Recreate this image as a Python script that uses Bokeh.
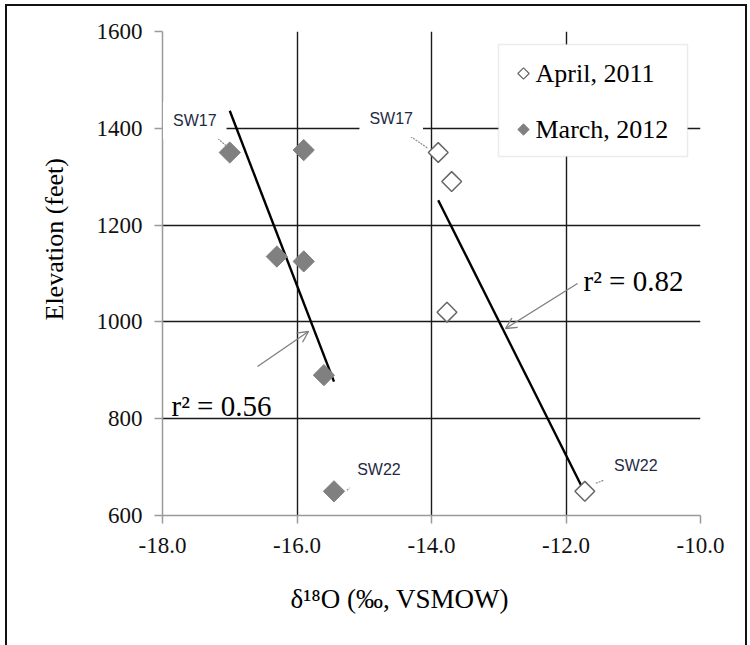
import numpy as np
from bokeh.plotting import figure
from bokeh.models import (Range1d, FixedTicker, PrintfTickFormatter, Label, Arrow,
                          OpenHead, BoxAnnotation, Title)
from bokeh.embed import file_html
from bokeh.resources import INLINE

# --- data -------------------------------------------------------------
apr_x = [-13.9, -13.7, -13.77, -11.72]          # δ18O, April 2011
apr_y = [1350, 1290, 1020, 650]                 # elevation (feet)
apr_names = ["SW17", "", "", "SW22"]

mar_x = [-17.0, -15.9, -16.3, -15.9, -15.6, -15.45]   # δ18O, March 2012
mar_y = [1350, 1355, 1135, 1125, 890, 650]
mar_names = ["SW17", "", "", "", "", "SW22"]

x_ticks = [-18, -16, -14, -12, -10]
y_ticks = [600, 800, 1000, 1200, 1400, 1600]
series_labels = ["April, 2011", "March, 2012"]
r2_texts = ["r\u00b2 = 0.82", "r\u00b2 = 0.56"]
x_title = "\u03b4\u00b9\u2078O (\u2030, VSMOW)"
y_title = "Elevation (feet)"

# --- layout -------------------------------------------------------------
W, H = 750, 645
LEFT, RIGHT, TOP, BOTTOM = 162, 50, 31, 130
FW, FH = W - LEFT - RIGHT, H - TOP - BOTTOM
SX = FW / (x_ticks[-1] - x_ticks[0])     # px per permil
SY = FH / (y_ticks[-1] - y_ticks[0])     # px per foot


def fx(px):
    """canvas px -> data x"""
    return x_ticks[0] + (px - LEFT) / SX


def fy(py):
    """canvas px (downwards) -> data y"""
    return y_ticks[-1] - (py - TOP) / SY


SERIF = "Liberation Serif"
GRID = "#1a1a1a"
AXIS = "#9a9a9a"
MARK = "#808080"
OPEN_EDGE = "#666666"

# black frame drawn around the whole figure (left, top and right edges)
frame_css = ("linear-gradient(#111,#111) 5px 4px/2px 100% no-repeat, "
             "linear-gradient(#111,#111) 5px 4px/742px 2px no-repeat, "
             "linear-gradient(#111,#111) 745px 4px/2px 100% no-repeat, #ffffff")

p = figure(width=W, height=H, x_range=Range1d(x_ticks[0], x_ticks[-1]),
           y_range=Range1d(y_ticks[0], y_ticks[-1]),
           output_backend="svg", toolbar_location=None,
           min_border_left=LEFT, min_border_right=RIGHT,
           min_border_top=TOP, min_border_bottom=BOTTOM,
           styles={"background": frame_css})
p.outline_line_color = None
p.background_fill_color = "white"
p.border_fill_alpha = 0

# axes
p.xaxis.ticker = FixedTicker(ticks=x_ticks)
p.yaxis.ticker = FixedTicker(ticks=y_ticks)
p.xaxis.formatter = PrintfTickFormatter(format="%.1f")
for ax in (p.xaxis[0], p.yaxis[0]):
    ax.axis_line_color = AXIS
    ax.axis_line_width = 1.5
    ax.major_tick_line_color = AXIS
    ax.major_tick_line_width = 1.5
    ax.major_tick_out = 8
    ax.major_tick_in = 0
    ax.minor_tick_line_color = None
    ax.major_label_text_font = SERIF
    ax.major_label_text_font_size = "23px"
    ax.major_label_text_color = "#111111"
p.yaxis.major_label_standoff = 12
p.xaxis.major_label_standoff = 14

# axis titles, placed off-centre in the side panels
p.add_layout(Title(text=x_title, align="left", offset=128, standoff=52,
                   text_font=SERIF, text_font_size="27px", text_font_style="normal",
                   text_color="black"), "below")
p.add_layout(Title(text=y_title, align="left", offset=195, standoff=50,
                   text_font=SERIF, text_font_size="26px", text_font_style="normal",
                   text_color="black"), "left")

# grid (the left and bottom edges are the grey axis lines)
p.xgrid.ticker = FixedTicker(ticks=x_ticks[1:])
p.ygrid.ticker = FixedTicker(ticks=y_ticks[1:])
for g in (p.xgrid[0], p.ygrid[0]):
    g.grid_line_color = GRID
    g.grid_line_width = 1.4

# --- least-squares trend lines ------------------------------------------
def trend(xs, ys):
    k, b = np.polyfit(xs, ys, 1)
    xe = np.array([min(xs), max(xs)])
    return xe, k * xe + b


for xs, ys in ((mar_x, mar_y), (apr_x, apr_y)):
    tx, ty = trend(xs, ys)
    p.line(tx, ty, line_color="black", line_width=2.4)

# --- points ---------------------------------------------------------------
p.scatter(apr_x, apr_y, marker="square", angle=np.pi / 4, size=14,
          fill_color="white", line_color=OPEN_EDGE, line_width=1.5)
p.scatter(mar_x, mar_y, marker="square", angle=np.pi / 4, size=15,
          fill_color=MARK, line_color=MARK, line_width=1)

# --- station labels with dashed leaders (offsets in px, y downwards) -----
label_layout = {
    ("mar", "SW17"): dict(text=(-35, -32), lead=((-23, -24), (-4, -7))),
    ("apr", "SW17"): dict(text=(-47, -34), lead=((-35, -21), (-10, -4))),
    ("mar", "SW22"): dict(text=(45, -22), lead=((13, -1), (28, -17))),
    ("apr", "SW22"): dict(text=(51, -26), lead=((11, -8), (34, -17))),
}
lx0, ly0, lx1, ly1 = [], [], [], []
for key, xs, ys, names in (("apr", apr_x, apr_y, apr_names),
                           ("mar", mar_x, mar_y, mar_names)):
    for x, y, name in zip(xs, ys, names):
        if not name:
            continue
        lay = label_layout[(key, name)]
        (a, b), (c, d) = lay["lead"]
        lx0.append(x + a / SX); ly0.append(y - b / SY)
        lx1.append(x + c / SX); ly1.append(y - d / SY)
        p.add_layout(Label(x=x, y=y, x_offset=lay["text"][0], y_offset=-lay["text"][1],
                           text=name, text_align="center", text_baseline="middle",
                           text_font="Liberation Sans", text_font_size="16px",
                           text_color="#1f2a44", background_fill_color="white",
                           padding=10))
p.segment(lx0, ly0, lx1, ly1, line_color="#8a8a8a", line_width=1.2, line_dash="2 1")

# --- r² annotations ---------------------------------------------------------
p.add_layout(Label(x=fx(583), y=fy(280), text=r2_texts[0], text_font=SERIF,
                   text_font_size="29px", text_color="black", text_baseline="alphabetic"))
p.add_layout(Label(x=fx(171), y=fy(405), text=r2_texts[1], text_font=SERIF,
                   text_font_size="29px", text_color="black", text_baseline="alphabetic"))
for (sx0, sy0), (sx1, sy1) in (((577, 283), (505, 328)), ((257, 366), (308, 331))):
    p.add_layout(Arrow(x_start=fx(sx0), y_start=fy(sy0), x_end=fx(sx1), y_end=fy(sy1),
                       line_color="#7f7f7f", line_width=1.3,
                       end=OpenHead(size=11, line_color="#7f7f7f", line_width=1.3)))

# --- legend (white box over the grid, diamond keys, serif labels) -------------
p.add_layout(BoxAnnotation(left=fx(498), right=fx(687), top=fy(44), bottom=fy(156),
                           fill_color="white", fill_alpha=1, line_color="#bfbfbf",
                           line_width=1.5, level="underlay"))
key_rows = [73, 129]
p.scatter([fx(523)], [fy(key_rows[0])], marker="square", angle=np.pi / 4, size=8,
          fill_color="white", line_color=OPEN_EDGE, line_width=1.2)
p.scatter([fx(523)], [fy(key_rows[1])], marker="square", angle=np.pi / 4, size=8,
          fill_color=MARK, line_color=MARK, line_width=1)
for row, txt in zip(key_rows, series_labels):
    p.add_layout(Label(x=fx(535), y=fy(row), text=txt, text_font=SERIF,
                       text_font_size="26px", text_color="black",
                       text_baseline="middle"))

open("out.html", "w").write(file_html(p, INLINE))
